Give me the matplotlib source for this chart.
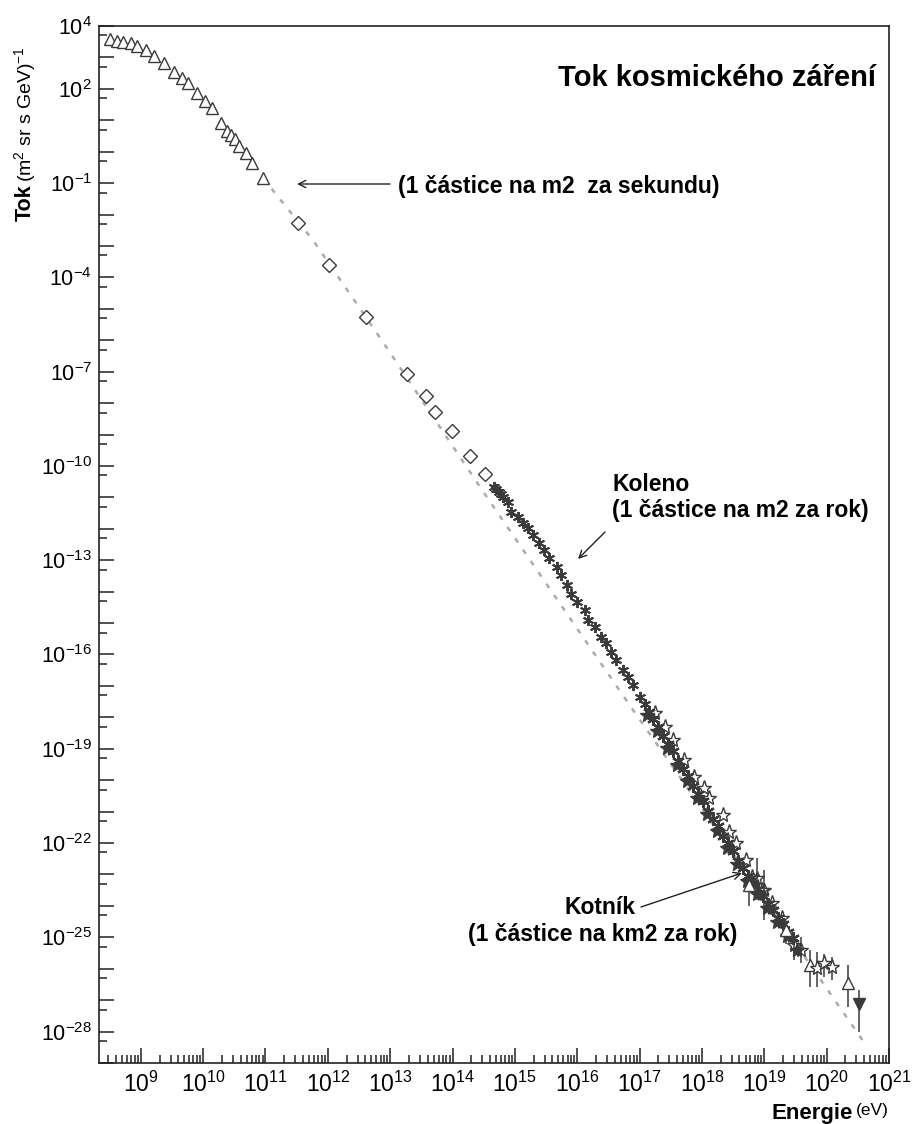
import matplotlib
matplotlib.use('Agg')
import matplotlib.pyplot as plt
import numpy as np
from matplotlib.ticker import FixedLocator, FuncFormatter, NullFormatter

plt.rcParams['font.family'] = ['Liberation Sans', 'DejaVu Sans']
plt.rcParams['mathtext.fontset'] = 'custom'
plt.rcParams['mathtext.rm'] = 'Liberation Sans'
plt.rcParams['mathtext.it'] = 'Liberation Sans:italic'
plt.rcParams['mathtext.bf'] = 'Liberation Sans:bold'

# data (log10 of energy in eV, log10 of flux)
tri_logE = [8.50, 8.62, 8.71, 8.84, 8.94, 9.08, 9.22, 9.37, 9.53, 9.66, 9.75,
            9.90, 10.03, 10.14, 10.28, 10.38, 10.44, 10.51, 10.57, 10.68, 10.79, 10.96]
tri_logF = [3.59, 3.52, 3.49, 3.46, 3.36, 3.24, 3.05, 2.82, 2.54, 2.35, 2.19,
            1.87, 1.61, 1.39, 0.91, 0.66, 0.53, 0.40, 0.18, -0.04, -0.36, -0.84]

dia_logE = [11.52, 12.02, 12.61, 13.27, 13.58, 13.72, 13.99, 14.28, 14.52]
dia_logF = [-2.26, -3.60, -5.25, -7.07, -7.79, -8.27, -8.90, -9.67, -10.26]

knee_logE = [14.67, 14.70, 14.75, 14.78, 14.81, 14.89, 14.94, 15.05, 15.13, 15.21,
             15.29, 15.39, 15.47, 15.55, 15.67, 15.74, 15.83, 15.90, 15.99, 16.12,
             16.17, 16.28, 16.38, 16.46, 16.54, 16.62, 16.73, 16.81, 16.89, 17.00, 17.08]
knee_logF = [-10.66, -10.72, -10.82, -10.90, -10.98, -11.14, -11.46, -11.62, -11.83, -11.99,
             -12.20, -12.46, -12.68, -12.94, -13.21, -13.47, -13.79, -14.06, -14.32, -14.59,
             -14.91, -15.12, -15.44, -15.65, -15.91, -16.18, -16.50, -16.71, -16.98, -17.35, -17.56]

up_logE = [17.24, 17.40, 17.53, 17.72, 17.88, 18.04, 18.12, 18.33, 18.44, 18.55,
           18.71, 18.81, 18.97, 19.13, 19.29]
up_logF = [-17.87, -18.31, -18.72, -19.36, -19.90, -20.25, -20.57, -21.11, -21.65, -22.00,
           -22.54, -23.07, -23.50, -23.92, -24.40]

mid_logE = [17.15, 17.22, 17.30, 17.38, 17.46, 17.54, 17.62, 17.70, 17.78, 17.86,
            17.94, 18.02, 18.10, 18.18, 18.26, 18.34, 18.42, 18.50, 18.58, 18.66,
            18.74, 18.82, 18.90, 18.98, 19.06, 19.14, 19.22, 19.30, 19.38, 19.46]
mid_logF = [-17.82, -18.05, -18.30, -18.60, -18.85, -19.08, -19.40, -19.64, -19.88, -20.19,
            -20.43, -20.66, -20.98, -21.22, -21.47, -21.77, -22.01, -22.26, -22.56, -22.81,
            -23.05, -23.27, -23.47, -23.68, -23.94, -24.12, -24.39, -24.57, -24.84, -25.02]

low_logE = [17.12, 17.28, 17.44, 17.60, 17.76, 17.92, 18.08, 18.24, 18.40, 18.56,
            18.72, 18.88, 19.04, 19.20, 19.36, 19.52]
low_logF = [-17.92, -18.45, -18.98, -19.51, -20.04, -20.56, -21.09, -21.62, -22.15, -22.68,
            -23.21, -23.62, -24.07, -24.51, -24.96, -25.41]

# points with error bars (errors in decades: down, up)
berr_logE = [18.89, 19.00, 19.48, 19.59]
berr_logF = [-23.12, -23.50, -25.25, -25.41]
berr_lo = [0.70, 0.95, 0.48, 0.41]
berr_hi = [0.64, 0.64, 0.40, 0.42]

ttri_logE = [18.76, 19.35, 19.74, 20.35]
ttri_logF = [-23.34, -24.77, -25.89, -26.46]
ttri_lo = [0.65, 0.45, 0.69, 0.76]
ttri_hi = [0.20, 0.20, 0.48, 0.57]

tstar_logE = [19.85, 19.96, 20.09]
tstar_logF = [-25.98, -25.82, -25.95]
tstar_lo = [0.60, 0.45, 0.41]
tstar_hi = [0.50, 0.30, 0.32]

lim_logE = [20.52]
lim_logF = [-27.13]
lim_lo = [0.89]
lim_hi = [0.45]

fit_logE = [10.96, 11.76, 12.83, 14.55, 16.84, 17.96, 20.62]
fit_logF = [-0.84, -2.81, -5.90, -10.99, -17.61, -20.79, -28.40]

ytick_exps = [4, 2, -1, -4, -7, -10, -13, -16, -19, -22, -25, -28]
xtick_exps = list(range(9, 22))

W, H = 916, 1124
dark = '#3a3a3a'


def px(x, y):
    return (x / W, 1 - y / H)


def e(a):
    return 10.0 ** np.array(a)


def yerr(lf, lo, hi):
    lf = np.array(lf)
    return [10.0 ** lf - 10.0 ** (lf - np.array(lo)), 10.0 ** (lf + np.array(hi)) - 10.0 ** lf]


fig = plt.figure(figsize=(W / 100, H / 100), dpi=100)
ax = fig.add_axes([99 / W, 1 - 1063 / H, 790 / W, 1037 / H])
ax.set_xscale('log')
ax.set_yscale('log')

ax.plot(e(fit_logE), e(fit_logF), color='#ababab', lw=1.8, ls=(0, (2, 3.5)), zorder=1)

ax.plot(e(tri_logE), e(tri_logF), ls='none', marker='^', ms=8.5, mfc='white', mec=dark, mew=1.0)
ax.plot(e(dia_logE), e(dia_logF), ls='none', marker='D', ms=7.3, mfc='white', mec=dark, mew=1.0)
ax.plot(e(knee_logE), e(knee_logF), ls='none', marker=(6, 2, 0), ms=8, mec=dark, mew=1.4)
ax.plot(e(low_logE), e(low_logF), ls='none', marker='*', ms=10, mfc=dark, mec=dark, mew=1.0)
ax.plot(e(mid_logE), e(mid_logF), ls='none', marker=(6, 2, 0), ms=9, mec=dark, mew=1.6)
ax.plot(e(up_logE), e(up_logF), ls='none', marker='*', ms=11, mfc='none', mec=dark, mew=1.0)

ax.errorbar(e(berr_logE), e(berr_logF), yerr=yerr(berr_logF, berr_lo, berr_hi), fmt='*',
            ms=10, mfc='none', mec=dark, ecolor=dark, elinewidth=1.1, capsize=0)
ax.errorbar(e(ttri_logE), e(ttri_logF), yerr=yerr(ttri_logF, ttri_lo, ttri_hi), fmt='^',
            ms=9, mfc='white', mec=dark, ecolor=dark, elinewidth=1.1, capsize=0)
ax.errorbar(e(tstar_logE), e(tstar_logF), yerr=yerr(tstar_logF, tstar_lo, tstar_hi), fmt='*',
            ms=11, mfc='white', mec=dark, ecolor=dark, elinewidth=1.1, capsize=0)
ax.errorbar(e(lim_logE), e(lim_logF), yerr=yerr(lim_logF, lim_lo, lim_hi), fmt='v',
            ms=8, mfc=dark, mec=dark, ecolor=dark, elinewidth=1.1, capsize=0)

ax.set_xlim(10 ** 8.33, 1e21)
ax.set_ylim(1e-29, 1e4)

ax.xaxis.set_major_locator(FixedLocator(e(xtick_exps)))
ax.xaxis.set_minor_locator(FixedLocator([k * 10.0 ** n for n in range(8, 21) for k in range(2, 10)]))
ax.xaxis.set_major_formatter(FuncFormatter(lambda v, p: r'$10^{%d}$' % round(np.log10(v))))
ax.xaxis.set_minor_formatter(NullFormatter())

ax.yaxis.set_major_locator(FixedLocator(10.0 ** np.arange(-29, 5)))
ax.yaxis.set_minor_locator(FixedLocator(0.5 * 10.0 ** np.arange(-28, 5)))
ax.yaxis.set_major_formatter(FuncFormatter(
    lambda v, p: r'$10^{%d}$' % round(np.log10(v)) if round(np.log10(v)) in ytick_exps else ''))
ax.yaxis.set_minor_formatter(NullFormatter())

ax.tick_params(which='both', direction='in', top=False, right=False, color='#222')
ax.tick_params(which='major', length=11, width=1.1)
ax.tick_params(which='minor', length=5.5, width=1.1)
ax.tick_params(axis='x', pad=6, labelsize=16.5)
ax.tick_params(axis='y', pad=5, labelsize=15.5)
for s in ax.spines.values():
    s.set_linewidth(1.2)
    s.set_color('#222')

# axis titles
fig.text(*px(853, 1113), 'Energie', ha='right', va='center', fontsize=16, fontweight='bold')
fig.text(*px(889, 1110), '(eV)', ha='right', va='center', fontsize=12.5)
fig.text(*px(25, 221), 'Tok', rotation=90, ha='center', va='bottom', fontsize=15.5, fontweight='bold')
fig.text(*px(25, 182), r'(m$^2$ sr s GeV)$^{-1}$', rotation=90, ha='center', va='bottom', fontsize=14)

# title and notes
fig.text(*px(876, 78), 'Tok kosmického záření', ha='right', va='center', fontsize=21, fontweight='bold')

arrow = dict(arrowstyle='->', lw=1.0, color='#222', shrinkA=0, shrinkB=0, mutation_scale=13)
fig.text(*px(398, 186), '(1 částice na m2  za sekundu)', ha='left', va='center',
         fontsize=16.5, fontweight='bold')
ax.annotate('', xy=px(297, 184), xytext=px(390, 184), xycoords='figure fraction', arrowprops=arrow)

fig.text(*px(612, 484), 'Koleno', ha='left', va='center', fontsize=16.5, fontweight='bold')
fig.text(*px(612, 511), '(1 částice na m2 za rok)', ha='left', va='center', fontsize=16.5, fontweight='bold')
ax.annotate('', xy=px(578, 559), xytext=px(605, 532), xycoords='figure fraction', arrowprops=arrow)

fig.text(*px(600, 908), 'Kotník', ha='center', va='center', fontsize=16.5, fontweight='bold')
fig.text(*px(603, 935), '(1 částice na km2 za rok)', ha='center', va='center', fontsize=16.5, fontweight='bold')
ax.annotate('', xy=px(742, 873), xytext=px(641, 907), xycoords='figure fraction', arrowprops=arrow)

fig.savefig('out.png', dpi=100)
